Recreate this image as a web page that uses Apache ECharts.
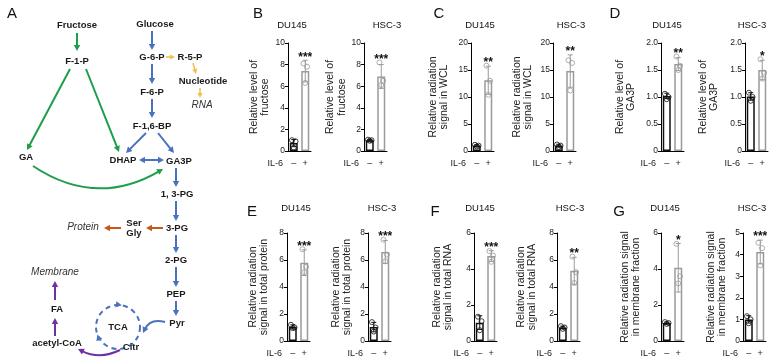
<!DOCTYPE html>
<html><head><meta charset="utf-8">
<script src="https://cdn.jsdelivr.net/npm/echarts@6/dist/echarts.min.js"></script>
<style>html,body{margin:0;padding:0;background:#fff}#c{width:777px;height:364px}</style>
</head><body><div id="c"></div>
<script>
// ---------------- data ----------------
const groups = ['–', '+'];
const cellLines = ['DU145', 'HSC-3'];

// B: relative level of fructose
const fructoseDU145Mean = [0.73, 7.4];
const fructoseDU145Sd = [0.33, 1.0];
const fructoseDU145Pts = [[1.0, 0.9, 0.3], [8.1, 7.8, 6.3]];
const fructoseHSC3Mean = [1.0, 6.9];
const fructoseHSC3Sd = [0.05, 1.1];
const fructoseHSC3Pts = [[1.05, 1.0, 0.95], [8.2, 6.5, 6.1]];
// C: radiation signal in WCL
const wclDU145Mean = [1.0, 13.1];
const wclDU145Sd = [0.15, 2.6];
const wclDU145Pts = [[1.15, 1.0, 0.85], [15.8, 13.0, 10.4]];
const wclHSC3Mean = [1.0, 14.8];
const wclHSC3Sd = [0.25, 3.0];
const wclHSC3Pts = [[1.2, 1.0, 0.75], [16.8, 16.3, 11.2]];
// D: relative level of GA3P
const ga3pDU145Mean = [1.02, 1.61];
const ga3pDU145Sd = [0.05, 0.12];
const ga3pDU145Pts = [[1.06, 1.0, 0.96], [1.75, 1.58, 1.5]];
const ga3pHSC3Mean = [1.01, 1.5];
const ga3pHSC3Sd = [0.07, 0.18];
const ga3pHSC3Pts = [[1.08, 1.0, 0.93], [1.7, 1.45, 1.34]];
// E: radiation signal in total protein
const proteinDU145Mean = [1.05, 5.8];
const proteinDU145Sd = [0.15, 0.95];
const proteinDU145Pts = [[1.2, 1.0, 0.95], [6.8, 5.5, 5.1]];
const proteinHSC3Mean = [1.03, 6.6];
const proteinHSC3Sd = [0.35, 0.85];
const proteinHSC3Pts = [[1.4, 1.0, 0.7], [7.5, 6.4, 5.9]];
// F: radiation signal in total RNA
const rnaDU145Mean = [1.02, 4.72];
const rnaDU145Sd = [0.38, 0.3];
const rnaDU145Pts = [[1.35, 1.1, 0.6], [5.0, 4.75, 4.4]];
const rnaHSC3Mean = [1.0, 5.2];
const rnaHSC3Sd = [0.1, 1.0];
const rnaHSC3Pts = [[1.1, 1.0, 0.9], [6.25, 5.1, 4.3]];
// G: radiation signal in membrane fraction
const membraneDU145Mean = [1.0, 4.07];
const membraneDU145Sd = [0.05, 1.35];
const membraneDU145Pts = [[1.05, 1.0, 0.95], [5.4, 3.6, 3.2]];
const membraneHSC3Mean = [1.0, 4.12];
const membraneHSC3Sd = [0.17, 0.55];
const membraneHSC3Pts = [[1.15, 1.0, 0.82], [4.55, 4.3, 3.5]];

// significance marks (+ vs –)
const sigB = ['***', '***'];
const sigC = ['**', '**'];
const sigD = ['**', '*'];
const sigE = ['***', '***'];
const sigF = ['***', '**'];
const sigG = ['*', '***'];

// y axis ranges [max, interval] and names
const axisB = [[10, 2], [10, 2]];
const axisC = [[20, 5], [20, 5]];
const axisD = [[2, 0.5], [2, 0.5]];
const axisE = [[8, 2], [8, 2]];
const axisF = [[6, 2], [8, 2]];
const axisG = [[6, 2], [5, 1]];
const nameB = 'Relative level of\nfructose';
const nameC = 'Relative radiation\nsignal in WCL';
const nameD = 'Relative level of\nGA3P';
const nameE = 'Relative radiation\nsignal in total protein';
const nameF = 'Relative radiation\nsignal in total RNA';
const nameG = 'Relative radiation signal\nin membrane fraction';

// ---------------- assembly ----------------
const FF = '"Liberation Sans", Arial, sans-serif';
const panels = [
  {m: fructoseDU145Mean, s: fructoseDU145Sd, p: fructoseDU145Pts, ax: axisB[0], name: nameB, sig: sigB[0]},
  {m: fructoseHSC3Mean, s: fructoseHSC3Sd, p: fructoseHSC3Pts, ax: axisB[1], name: nameB, sig: sigB[1]},
  {m: wclDU145Mean, s: wclDU145Sd, p: wclDU145Pts, ax: axisC[0], name: nameC, sig: sigC[0]},
  {m: wclHSC3Mean, s: wclHSC3Sd, p: wclHSC3Pts, ax: axisC[1], name: nameC, sig: sigC[1]},
  {m: ga3pDU145Mean, s: ga3pDU145Sd, p: ga3pDU145Pts, ax: axisD[0], name: nameD, sig: sigD[0], dec: true},
  {m: ga3pHSC3Mean, s: ga3pHSC3Sd, p: ga3pHSC3Pts, ax: axisD[1], name: nameD, sig: sigD[1], dec: true},
  {m: proteinDU145Mean, s: proteinDU145Sd, p: proteinDU145Pts, ax: axisE[0], name: nameE, sig: sigE[0]},
  {m: proteinHSC3Mean, s: proteinHSC3Sd, p: proteinHSC3Pts, ax: axisE[1], name: nameE, sig: sigE[1]},
  {m: rnaDU145Mean, s: rnaDU145Sd, p: rnaDU145Pts, ax: axisF[0], name: nameF, sig: sigF[0]},
  {m: rnaHSC3Mean, s: rnaHSC3Sd, p: rnaHSC3Pts, ax: axisF[1], name: nameF, sig: sigF[1]},
  {m: membraneDU145Mean, s: membraneDU145Sd, p: membraneDU145Pts, ax: axisG[0], name: nameG, sig: sigG[0]},
  {m: membraneHSC3Mean, s: membraneHSC3Sd, p: membraneHSC3Pts, ax: axisG[1], name: nameG, sig: sigG[1]}
];
// layout: [gridLeft, gridTop, nameGap, titleX, titleY]
const layout = [
  [288, 43, 17, 292, 25], [364, 43, 16, 387, 25],
  [471, 43, 21, 480, 25], [553, 43, 19, 571, 25],
  [661, 43, 24, 667, 25], [745, 43, 25, 752, 25],
  [287, 233, 17, 296, 208], [368, 233, 15, 382, 208],
  [474, 233, 20, 480, 208], [557, 233, 19, 570, 208],
  [661, 233, 19, 665, 208], [743, 233, 15, 752, 208]
];
const GW = 23, GH = 108;
const DARK = '#111', GREY = '#9a9a9a';

const G = [];
function txt(x, y, s, font, fill, align) {
  G.push({type: 'text', x: x, y: y, silent: true, z: 10,
    style: {text: s, font: font, fill: fill || '#1a1a1a',
      textAlign: align || 'center', textVerticalAlign: 'middle',
      align: align || 'center', verticalAlign: 'middle'}});
}
function head(x, y, ang, color, L, W) {
  L = L || 6; W = W || 3.2;
  const bx = x - L * Math.cos(ang), by = y - L * Math.sin(ang);
  G.push({type: 'polygon', silent: true, z: 6,
    shape: {points: [[x, y], [bx + W * Math.sin(ang), by - W * Math.cos(ang)], [bx - W * Math.sin(ang), by + W * Math.cos(ang)]]},
    style: {fill: color}});
}
function arr(x1, y1, x2, y2, color, both, lw, L, W) {
  lw = lw || 2; L = L || 6;
  const ang = Math.atan2(y2 - y1, x2 - x1);
  const sx = both ? x1 + L * 0.8 * Math.cos(ang) : x1, sy = both ? y1 + L * 0.8 * Math.sin(ang) : y1;
  G.push({type: 'line', silent: true, z: 5,
    shape: {x1: sx, y1: sy, x2: x2 - L * 0.8 * Math.cos(ang), y2: y2 - L * 0.8 * Math.sin(ang)},
    style: {stroke: color, lineWidth: lw}});
  head(x2, y2, ang, color, L, W);
  if (both) head(x1, y1, ang + Math.PI, color, L, W);
}
function curve(x1, y1, cx, cy, x2, y2, color) {
  const ang = Math.atan2(y2 - cy, x2 - cx);
  G.push({type: 'bezierCurve', silent: true, z: 5,
    shape: {x1: x1, y1: y1, cpx1: cx, cpy1: cy, x2: x2 - 4 * Math.cos(ang), y2: y2 - 4 * Math.sin(ang)},
    style: {stroke: color, lineWidth: 2, fill: null}});
  head(x2, y2, ang, color);
}

// ---- pathway diagram (panel A) ----
const GREEN = '#1f9e4a', BLUE = '#4a72c0', YEL = '#f2c14a', ORG = '#c5581b', PUR = '#7030a0';
const B9 = 'bold 9.5px ' + FF, IT = 'italic 10px ' + FF;
txt(7, 14, 'A', '15px ' + FF, '#111', 'left');
txt(77, 25, 'Fructose', B9); txt(77, 61, 'F-1-P', B9);
txt(155, 24, 'Glucose', B9); txt(152, 57, 'G-6-P', B9); txt(190, 57, 'R-5-P', B9);
txt(203, 81, 'Nucleotide', B9); txt(202, 105, 'RNA', IT, '#333');
txt(152, 92, 'F-6-P', B9); txt(152, 126, 'F-1,6-BP', B9);
txt(26, 157, 'GA', B9); txt(123, 160, 'DHAP', B9); txt(179, 161, 'GA3P', B9);
txt(177, 194, '1, 3-PG', B9); txt(177, 228, '3-PG', B9);
txt(134, 223, 'Ser', B9); txt(134, 233, 'Gly', B9); txt(83, 227, 'Protein', IT, '#333');
txt(176, 260, '2-PG', B9); txt(176, 294, 'PEP', B9); txt(177, 323, 'Pyr', B9);
txt(118, 327, 'TCA', B9); txt(131, 347, 'Citr', B9);
txt(57, 343, 'acetyl-CoA', B9); txt(57, 309, 'FA', B9); txt(55, 272, 'Membrane', IT, '#333');

arr(77, 33, 77, 51, GREEN); arr(70, 69, 27, 150, GREEN); arr(86, 69, 119, 152, GREEN);
curve(33, 166, 96, 208, 163, 169, GREEN);
arr(152, 31, 152, 50, BLUE); arr(152, 64, 152, 84, BLUE); arr(152, 99, 152, 118, BLUE);
arr(146, 133, 126, 153, BLUE); arr(158, 133, 174, 153, BLUE);
arr(139, 160, 164, 160, BLUE, true);
arr(176, 168, 176, 187, BLUE); arr(176, 201, 176, 221, BLUE); arr(176, 235, 176, 253, BLUE);
arr(176, 267, 176, 287, BLUE); arr(176, 301, 176, 316, BLUE);
curve(165, 322, 150, 318, 143, 333, BLUE);
arr(166, 57, 175, 57, YEL, false, 1.6, 5, 2.6); arr(193, 63, 196, 74, YEL, false, 1.6, 5, 2.6);
arr(200, 88, 200, 98, YEL, false, 1.6, 5, 2.6);
arr(163, 228, 146, 228, ORG); arr(121, 228, 104, 228, ORG);
curve(120, 350, 100, 360, 78, 349, PUR);
arr(55, 336, 55, 318, PUR); arr(55, 300, 55, 281, PUR);
// TCA dashed cycle
G.push({type: 'circle', silent: true, z: 4, shape: {cx: 118, cy: 327, r: 22},
  style: {stroke: BLUE, lineWidth: 2, lineDash: [5, 4], fill: null}});
(function () {
  [280, 160].forEach(function (deg) {
    const t = deg * Math.PI / 180;
    head(118 + 22 * Math.cos(t), 327 + 22 * Math.sin(t), Math.atan2(Math.cos(t), -Math.sin(t)), BLUE, 6, 3.2);
  });
})();

// panel letters
txt(258, 14, 'B', '15px ' + FF, '#111'); txt(439, 14, 'C', '15px ' + FF, '#111'); txt(615, 14, 'D', '15px ' + FF, '#111');
txt(252, 212, 'E', '15px ' + FF, '#111'); txt(435, 212, 'F', '15px ' + FF, '#111'); txt(619, 212, 'G', '15px ' + FF, '#111');

// ---- bar charts ----
const option = {animation: false, grid: [], xAxis: [], yAxis: [], series: [], graphic: G};
const jitter = [-1.8, 1.8, 0];
panels.forEach(function (P, i) {
  const L = layout[i];
  txt(L[3], L[4], cellLines[i % 2], '9.5px ' + FF, '#111');
  txt(L[0] - 5, L[1] + GH + 13, 'IL-6', '9px ' + FF, '#222', 'right');
  option.grid.push({left: L[0], top: L[1], width: GW, height: GH});
  option.xAxis.push({type: 'category', gridIndex: i, data: groups,
    axisLine: {lineStyle: {color: '#000', width: 1}},
    axisTick: {alignWithLabel: true, length: 2.5, lineStyle: {color: '#000'}},
    axisLabel: {fontSize: 9, color: '#222', margin: 8, fontFamily: FF}});
  option.yAxis.push({type: 'value', gridIndex: i, min: 0, max: P.ax[0], interval: P.ax[1],
    name: P.name, nameLocation: 'middle', nameGap: L[2],
    nameTextStyle: {fontSize: 10.5, color: '#222', lineHeight: 11.5, fontFamily: FF},
    axisLine: {show: true, lineStyle: {color: '#000', width: 1}},
    axisTick: {show: true, length: 3, lineStyle: {color: '#000'}},
    splitLine: {show: false},
    axisLabel: {fontSize: 8.5, color: '#222', margin: 3, fontFamily: FF,
      formatter: function (v) { return P.dec ? (v === 0 ? '0' : v.toFixed(1)) : String(v); }}});
  option.series.push({type: 'bar', xAxisIndex: i, yAxisIndex: i, barWidth: 8, silent: true, z: 2,
    itemStyle: {color: '#fff', borderWidth: 1.5},
    data: [{value: P.m[0], itemStyle: {borderColor: DARK}}, {value: P.m[1], itemStyle: {borderColor: GREY}}]});
  const tops = [0, 1].map(function (g) { return Math.max(P.m[g] + P.s[g], Math.max.apply(null, P.p[g])); });
  option.series.push({type: 'custom', xAxisIndex: i, yAxisIndex: i, z: 3, silent: true,
    data: [[0, P.m[0], P.s[0], tops[0]], [1, P.m[1], P.s[1], tops[1]]],
    renderItem: function (params, api) {
      const g = api.value(0), m = api.value(1), s = api.value(2);
      const hi = api.coord([g, m + s]), lo = api.coord([g, Math.max(0, m - s)]);
      const col = g === 0 ? DARK : GREY, w = 2.5;
      const ch = [
        {type: 'line', shape: {x1: hi[0], y1: hi[1], x2: lo[0], y2: lo[1]}, style: {stroke: col, lineWidth: 1}},
        {type: 'line', shape: {x1: hi[0] - w, y1: hi[1], x2: hi[0] + w, y2: hi[1]}, style: {stroke: col, lineWidth: 1}},
        {type: 'line', shape: {x1: lo[0] - w, y1: lo[1], x2: lo[0] + w, y2: lo[1]}, style: {stroke: col, lineWidth: 1}}
      ];
      if (g === 1) {
        const t = api.coord([g, api.value(3)]);
        ch.push({type: 'text', x: t[0], y: t[1] + 3,
          style: {text: P.sig, font: 'bold 12px ' + FF, fill: '#111', textAlign: 'center', textVerticalAlign: 'bottom', align: 'center', verticalAlign: 'bottom'}});
      }
      return {type: 'group', children: ch};
    }});
  const sd = [];
  [0, 1].forEach(function (g) {
    P.p[g].forEach(function (v, j) {
      sd.push({value: [g, v], symbolOffset: [jitter[j], 0], itemStyle: {borderColor: g === 0 ? DARK : GREY}});
    });
  });
  option.series.push({type: 'scatter', xAxisIndex: i, yAxisIndex: i, z: 4, silent: true,
    symbol: 'circle', symbolSize: 5, itemStyle: {color: 'rgba(255,255,255,0)', borderWidth: 1}, data: sd});
});

const chart = echarts.init(document.getElementById('c'), null, {renderer: 'canvas'});
chart.setOption(option);
</script>
</body></html>
